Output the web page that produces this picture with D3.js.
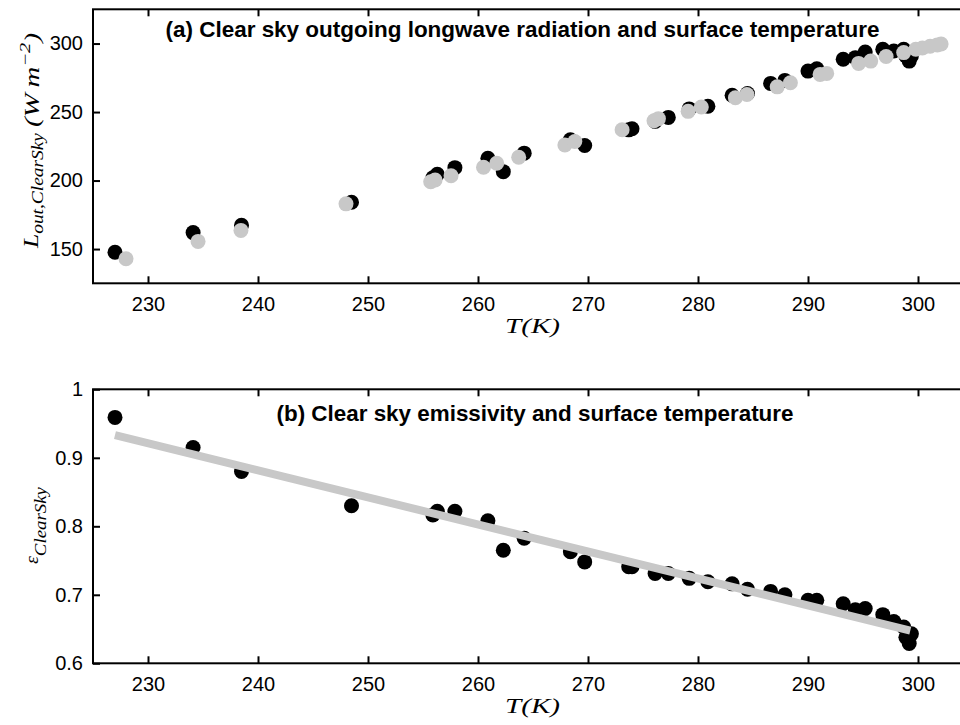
<!DOCTYPE html>
<html>
<head>
<meta charset="utf-8">
<script src="https://cdn.jsdelivr.net/npm/d3@7"></script>
<style>
  html, body { margin: 0; padding: 0; background: #fff; }
  svg { display: block; }
  .tick text { font-family: "Liberation Sans", Arial, sans-serif; font-size: 20px; fill: #000; }
  .math { font-family: "Liberation Serif", "DejaVu Serif", serif; font-style: italic; fill: #000; }
  .title { font-family: "Liberation Sans", Arial, sans-serif; font-weight: bold; font-size: 22px; fill: #000; }
</style>
</head>
<body>
<svg id="chart" width="960" height="725"></svg>
<script>
// ---------- data ----------
// Observed (black) surface temperature, K
const tBlack = [227.0, 234.1, 238.5, 248.5, 255.9, 256.3, 257.9, 260.9, 262.3, 264.2,
  268.4, 269.7, 273.7, 274.0, 276.1, 277.3, 279.2, 280.9, 283.1, 284.5,
  286.6, 287.9, 290.0, 290.8, 293.2, 294.3, 295.2, 296.8, 297.8, 298.7,
  298.9, 299.2, 299.4];
// Observed clear-sky outgoing longwave, W m-2
const lBlack = [147.7, 162.0, 167.3, 184.2, 202.0, 204.6, 209.4, 216.3, 206.5, 220.0,
  229.7, 225.6, 237.0, 237.8, 243.2, 246.1, 252.3, 254.2, 262.3, 263.5,
  270.9, 273.1, 279.9, 281.6, 288.5, 289.7, 293.8, 295.8, 294.6, 295.8,
  291.0, 287.2, 290.9];
// Clear-sky emissivity
const eBlack = [0.959, 0.915, 0.880, 0.830, 0.8165, 0.822, 0.822, 0.808, 0.765, 0.7825,
  0.763, 0.748, 0.741, 0.741, 0.731, 0.731, 0.724, 0.719, 0.716, 0.708,
  0.705, 0.700, 0.692, 0.692, 0.687, 0.678, 0.680, 0.671, 0.661, 0.653,
  0.638, 0.629, 0.643];
// Grey series (top panel)
const tGrey = [228.0, 234.55, 238.45, 248.0, 255.7, 256.1, 257.55, 260.5, 261.7, 263.7,
  267.9, 268.8, 273.1, 276.0, 276.4, 279.1, 280.3, 283.4, 284.45, 287.2,
  288.4, 291.1, 291.7, 294.6, 295.7, 297.1, 298.7, 299.8, 300.4, 301.1,
  301.75, 302.1];
const lGrey = [142.9, 155.6, 163.6, 183.0, 199.1, 200.4, 203.5, 209.7, 212.6, 217.0,
  226.0, 228.5, 237.1, 243.7, 245.2, 250.5, 253.7, 260.4, 262.8, 268.4,
  271.4, 277.5, 278.2, 285.5, 287.2, 290.5, 293.4, 295.8, 296.8, 298.0,
  299.0, 299.7];
// Linear fit of emissivity (bottom panel)
const fitT = [227.0, 299.3];
const fitE = [0.933, 0.6476];

const xTicks = [230, 240, 250, 260, 270, 280, 290, 300];
const yTicksTop = [150, 200, 250, 300];
const yTicksBot = [0.6, 0.7, 0.8, 0.9, 1.0];
const titleTop = "(a) Clear sky outgoing longwave radiation and surface temperature";
const titleBot = "(b) Clear sky emissivity and surface temperature";

// ---------- layout ----------
const svg = d3.select("#chart");
const left = 93, right = 973;
const panels = [
  { top: 9.3, bottom: 283.3, domain: [125, 325], ticks: yTicksTop, fmt: d => d },
  { top: 389.3, bottom: 663.3, domain: [0.6, 1.0], ticks: yTicksBot, fmt: d => d === 1 ? "1" : d3.format(".1f")(d) }
];
const x = d3.scaleLinear().domain([225, 305]).range([left, right]);

panels.forEach(p => {
  p.y = d3.scaleLinear().domain(p.domain).range([p.bottom, p.top]);
  const g = svg.append("g");
  const ab = g.append("g").attr("transform", `translate(0,${p.bottom})`)
    .call(d3.axisBottom(x).tickValues(xTicks).tickSizeInner(-7).tickSizeOuter(0).tickPadding(14));
  const at = g.append("g").attr("transform", `translate(0,${p.top})`)
    .call(d3.axisTop(x).tickValues(xTicks).tickSizeInner(-7).tickSizeOuter(0).tickFormat(""));
  const al = g.append("g").attr("transform", `translate(${left},0)`)
    .call(d3.axisLeft(p.y).tickValues(p.ticks).tickSizeInner(-7).tickSizeOuter(0).tickPadding(10).tickFormat(p.fmt));
  const ar = g.append("g").attr("transform", `translate(${right},0)`)
    .call(d3.axisRight(p.y).tickValues(p.ticks).tickSizeInner(-7).tickSizeOuter(0).tickFormat(""));
  [ab, at, al, ar].forEach(a => {
    a.select(".domain").remove();
    a.selectAll(".tick line").attr("stroke", "#000").attr("stroke-width", 2);
  });
  g.append("rect").attr("x", left).attr("y", p.top)
    .attr("width", right - left).attr("height", p.bottom - p.top)
    .attr("fill", "none").attr("stroke", "#000").attr("stroke-width", 2);
  p.g = g;
});

const R = 7.5;
const grey = "#c8c8c8";

// ---------- panel (a) ----------
const pa = panels[0];
pa.g.append("g").selectAll("circle").data(tBlack).join("circle")
  .attr("cx", d => x(d)).attr("cy", (d, i) => pa.y(lBlack[i])).attr("r", R).attr("fill", "#000");
pa.g.append("g").selectAll("circle").data(tGrey).join("circle")
  .attr("cx", d => x(d)).attr("cy", (d, i) => pa.y(lGrey[i])).attr("r", R).attr("fill", grey);

// ---------- panel (b) ----------
const pb = panels[1];
pb.g.append("g").selectAll("circle").data(tBlack).join("circle")
  .attr("cx", d => x(d)).attr("cy", (d, i) => pb.y(eBlack[i])).attr("r", R).attr("fill", "#000");
const line = d3.line().x(d => x(d[0])).y(d => pb.y(d[1]));
pb.g.append("path").datum(fitT.map((t, i) => [t, fitE[i]]))
  .attr("d", line).attr("fill", "none").attr("stroke", grey).attr("stroke-width", 8);

// ---------- titles ----------
svg.append("text").attr("class", "title").attr("x", 165.5).attr("y", 36.5)
  .attr("textLength", 714).attr("lengthAdjust", "spacingAndGlyphs").text(titleTop);
svg.append("text").attr("class", "title").attr("x", 276.5).attr("y", 420.5)
  .attr("textLength", 517).attr("lengthAdjust", "spacingAndGlyphs").text(titleBot);

// ---------- axis labels ----------
[333, 713].forEach(yb => {
  svg.append("text").attr("class", "math").attr("x", 505).attr("y", yb)
    .attr("font-size", 22).attr("textLength", 55).attr("lengthAdjust", "spacingAndGlyphs").text("T(K)");
});

// y label (a): L_{out,ClearSky}
const yl1a = svg.append("text").attr("class", "math").attr("font-size", 21)
  .attr("transform", "translate(38,248) rotate(-90)")
  .attr("textLength", 115).attr("lengthAdjust", "spacingAndGlyphs");
yl1a.append("tspan").text("L");
yl1a.append("tspan").attr("font-size", 16).attr("dy", 5).text("out,ClearSky");
// (Wm^{-2})
const yl1b = svg.append("text").attr("class", "math").attr("font-size", 21)
  .attr("transform", "translate(39,127) rotate(-90)")
  .attr("textLength", 94).attr("lengthAdjust", "spacingAndGlyphs");
yl1b.append("tspan").text("(W\u2009m");
yl1b.append("tspan").attr("font-size", 15).attr("dy", -9).text("\u22122");
yl1b.append("tspan").attr("dy", 9).text(")");

// y label (b): ε_{ClearSky}
const yl2 = svg.append("text").attr("class", "math").attr("font-size", 18)
  .attr("transform", "translate(38,564) rotate(-90)")
  .attr("textLength", 77).attr("lengthAdjust", "spacingAndGlyphs");
yl2.append("tspan").text("\u03b5");
yl2.append("tspan").attr("font-size", 17).attr("dy", 8).text("ClearSky");
</script>
</body>
</html>
